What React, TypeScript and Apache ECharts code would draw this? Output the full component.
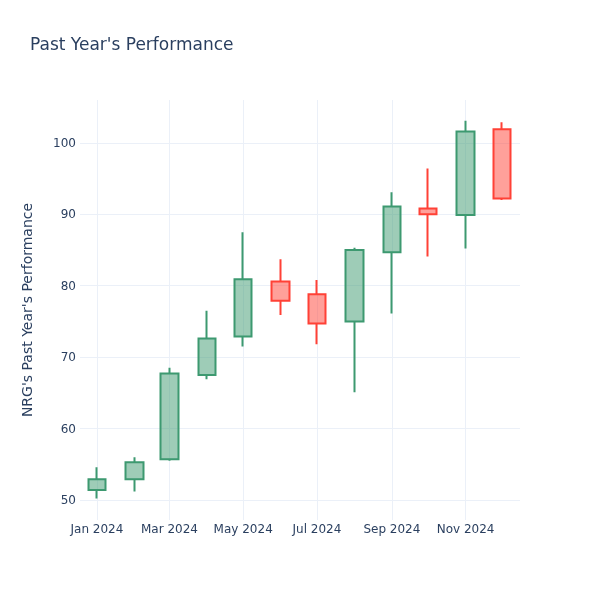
import React, { useEffect, useRef } from "react";
import * as echarts from "echarts";

const months = ["2024-01", "2024-02", "2024-03", "2024-04", "2024-05", "2024-06", "2024-07", "2024-08", "2024-09", "2024-10", "2024-11", "2024-12"];
const opens = [51.4, 52.9, 55.7, 67.5, 72.9, 80.6, 78.8, 75.0, 84.7, 90.8, 89.9, 101.9];
const closes = [52.9, 55.3, 67.7, 72.6, 80.9, 77.9, 74.7, 85.0, 91.1, 90.0, 101.6, 92.2];
const lows = [50.2, 51.2, 55.5, 66.9, 71.5, 75.9, 71.8, 65.1, 76.1, 84.1, 85.2, 92.0];
const highs = [54.6, 56.0, 68.5, 76.5, 87.5, 83.7, 80.8, 85.3, 93.1, 96.4, 103.1, 102.9];
const xTickMonths = ["2024-01", "2024-03", "2024-05", "2024-07", "2024-09", "2024-11"];
const yTicks = [50, 60, 70, 80, 90, 100];
const monthNames = ["Jan", "Feb", "Mar", "Apr", "May", "Jun", "Jul", "Aug", "Sep", "Oct", "Nov", "Dec"];

function ts(m: string): number {
  const [y, mo] = m.split("-").map(Number);
  return Date.UTC(y, mo - 1, 1);
}

export default function App() {
  const ref = useRef<HTMLDivElement>(null);
  useEffect(() => {
    if (!ref.current) return;
    const chart = echarts.init(ref.current, undefined, { renderer: "svg" });
    const textColor = "#2a3f5f";
    const grid = "#EBF0F8";
    const font = "DejaVu Sans";
    const data = months.map((m, i) => [ts(m), opens[i], closes[i], lows[i], highs[i]]);
    const day = 86400000;
    chart.setOption({
      animation: false,
      textStyle: { fontFamily: font },
      title: {
        text: "Past Year's Performance",
        left: 25,
        top: 30,
        textStyle: { fontFamily: font, fontSize: 17, fontWeight: "normal", color: textColor },
      },
      grid: { left: 80, right: 80, top: 100, bottom: 80 },
      xAxis: {
        type: "value",
        min: ts("2024-01") - 14 * day,
        max: ts("2024-12") + 15 * day,
        axisLine: { show: false },
        axisTick: { show: false, customValues: xTickMonths.map(ts) },
        splitLine: { show: true, lineStyle: { color: grid, width: 1 } },
        axisLabel: {
          customValues: xTickMonths.map(ts),
          color: textColor,
          fontFamily: font,
          fontSize: 12,
          margin: 3,
          formatter: (v: number) => {
            const d = new Date(v);
            return monthNames[d.getUTCMonth()] + " " + d.getUTCFullYear();
          },
        },
      },
      yAxis: {
        type: "value",
        min: 47.2,
        max: 106,
        name: "NRG's Past Year's Performance",
        nameLocation: "middle",
        nameGap: 46,
        nameTextStyle: { color: textColor, fontFamily: font, fontSize: 14 },
        axisLine: { show: false },
        axisTick: { show: false, customValues: yTicks },
        splitLine: { show: true, lineStyle: { color: grid, width: 1 } },
        axisLabel: {
          customValues: yTicks,
          color: textColor,
          fontFamily: font,
          fontSize: 12,
          margin: 4,
        },
      },
      series: [
        {
          type: "candlestick",
          data,
          encode: { x: 0, y: [1, 2, 3, 4] },
          barWidth: 18,
          itemStyle: {
            color: "rgba(61,153,112,0.5)",
            color0: "rgba(255,65,54,0.5)",
            borderColor: "#3D9970",
            borderColor0: "#FF4136",
            borderWidth: 2,
          },
        },
      ],
    });
    return () => chart.dispose();
  }, []);
  return <div ref={ref} style={{ position: "fixed", left: 0, top: 0, width: 600, height: 600 }} />;
}
